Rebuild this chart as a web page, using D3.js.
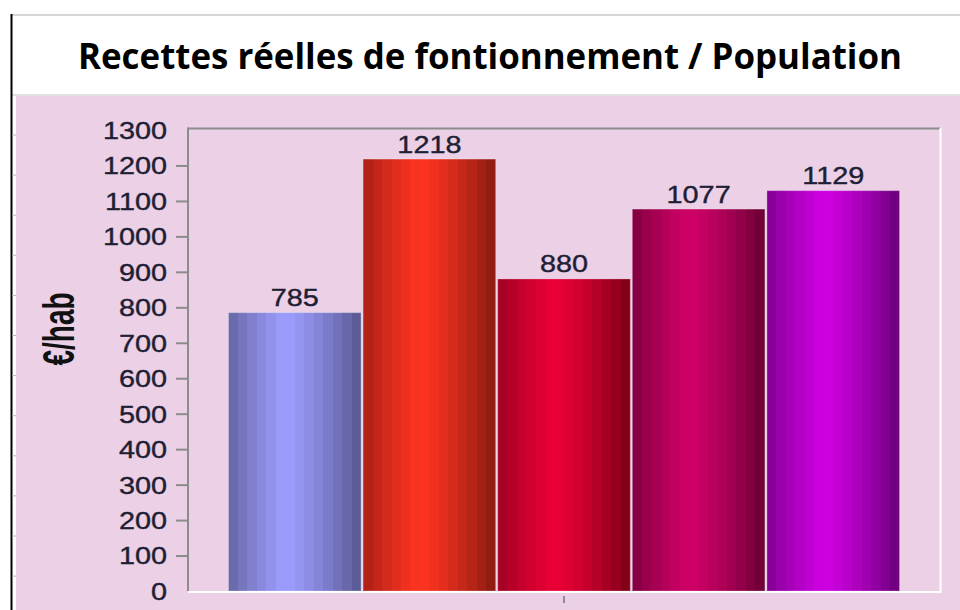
<!DOCTYPE html>
<html>
<head>
<meta charset="utf-8">
<script src="https://cdn.jsdelivr.net/npm/d3@7"></script>
<style>
  body { margin: 0; background: #ffffff; }
  svg { display: block; }
</style>
</head>
<body>
<svg id="chart" width="960" height="610"></svg>
<script>
// data
var categories = [""];
var seriesNames = ["Série 1", "Série 2", "Série 3", "Série 4", "Série 5"];
var seriesValues = [785, 1218, 880, 1077, 1129];
var yTicks = [0, 100, 200, 300, 400, 500, 600, 700, 800, 900, 1000, 1100, 1200, 1300];
var titleText = "Recettes réelles de fontionnement / Population";
var yTitle = "€/hab";

// bar shading: left edge, highlight, right edge
var barLeft  = ["#62639f", "#a51f14", "#9c0022", "#7c003d", "#7a008c"];
var barPeak  = ["#9d9dff", "#ff3421", "#ec0036", "#d10068", "#d000e4"];
var barRight = ["#56578f", "#871a10", "#7a0017", "#690034", "#680076"];

var svg = d3.select("#chart");
var pink = "#ebd0e6";
var textColor = "#1e1e34";

// frame of the sheet
svg.append("rect").attr("x", 12).attr("y", 15).attr("width", 948).attr("height", 595).attr("fill", "#fff");
svg.append("rect").attr("x", 16).attr("y", 96).attr("width", 944).attr("height", 514).attr("fill", pink);
svg.append("line").attr("x1", 12).attr("x2", 960).attr("y1", 15).attr("y2", 15)
    .attr("stroke", "#d6d6d6").attr("stroke-width", 2);
svg.append("line").attr("x1", 12).attr("x2", 960).attr("y1", 95).attr("y2", 95)
    .attr("stroke", "#d9d9d9").attr("stroke-width", 1.5);
svg.append("line").attr("x1", 11.5).attr("x2", 11.5).attr("y1", 14).attr("y2", 610)
    .attr("stroke", "#000").attr("stroke-width", 2);
// row marks on the left strip
svg.selectAll("line.row")
    .data(d3.range(135, 610, 40.1))
    .enter()
    .append("line")
    .attr("class", "row")
    .attr("x1", 12).attr("x2", 16)
    .attr("y1", function(d) { return d; }).attr("y2", function(d) { return d; })
    .attr("stroke", "#b8b8b8").attr("stroke-width", 1);

// title
svg.append("text")
    .attr("x", 490).attr("y", 69)
    .attr("text-anchor", "middle")
    .attr("font-family", "'Open Sans', 'Noto Sans', sans-serif")
    .attr("font-weight", "bold")
    .attr("font-size", 36)
    .attr("textLength", 824)
    .attr("lengthAdjust", "spacingAndGlyphs")
    .attr("fill", "#000")
    .text(titleText);

// scales
var plotLeft = 188, plotRight = 940, plotTop = 130, plotBottom = 591;
var yScale = d3.scaleLinear().domain([0, 1300]).range([plotBottom, plotTop]);
var x0 = d3.scaleBand().domain(categories).range([plotLeft, plotRight]).padding(0.0569);
var x1 = d3.scaleBand().domain(seriesNames).range([0, x0.bandwidth()]).paddingInner(0.015);

// plot frame
svg.append("line").attr("x1", plotLeft).attr("x2", plotRight).attr("y1", plotTop - 1.5).attr("y2", plotTop - 1.5)
    .attr("stroke", "#8c8c8c").attr("stroke-width", 2);
svg.append("line").attr("x1", plotRight + 0.5).attr("x2", plotRight + 0.5).attr("y1", plotTop - 2).attr("y2", plotBottom + 1)
    .attr("stroke", "#fff").attr("stroke-width", 2);
svg.append("line").attr("x1", plotLeft).attr("x2", plotRight + 1.5).attr("y1", plotBottom + 1).attr("y2", plotBottom + 1)
    .attr("stroke", "#fff").attr("stroke-width", 2);

// gradients, banded like the original
var defs = svg.append("defs");
var nBands = 14;
seriesNames.forEach(function(s, i) {
    var g = defs.append("linearGradient").attr("id", "grad" + i)
        .attr("x1", "0%").attr("x2", "100%").attr("y1", "0%").attr("y2", "0%");
    var toPeak = d3.interpolateRgb(barLeft[i], barPeak[i]);
    var fromPeak = d3.interpolateRgb(barPeak[i], barRight[i]);
    for (var k = 0; k < nBands; k++) {
        var mid = (k + 0.5) / nBands;
        var c = mid < 0.42 ? toPeak(Math.pow(mid / 0.42, 0.8)) : fromPeak(Math.pow((mid - 0.42) / 0.58, 1.3));
        g.append("stop").attr("offset", k / nBands).attr("stop-color", c);
        g.append("stop").attr("offset", (k + 1) / nBands).attr("stop-color", c);
    }
});

var group = svg.append("g").attr("transform", "translate(" + x0(categories[0]) + ",0)");

group.selectAll("rect.bar")
    .data(seriesValues)
    .enter()
    .append("rect")
    .attr("class", "bar")
    .attr("x", function(d, i) { return x1(seriesNames[i]); })
    .attr("y", function(d) { return yScale(d); })
    .attr("width", x1.bandwidth())
    .attr("height", function(d) { return plotBottom - yScale(d); })
    .attr("fill", function(d, i) { return "url(#grad" + i + ")"; })
    .attr("stroke", "rgba(255,255,255,0.25)")
    .attr("stroke-width", 1);

var sx = 1.2;
group.selectAll("text.val")
    .data(seriesValues)
    .enter()
    .append("text")
    .attr("class", "val")
    .attr("transform", function(d, i) {
        return "translate(" + (x1(seriesNames[i]) + x1.bandwidth() / 2) + "," + (yScale(d) - 6.5) + ") scale(" + sx + ",1)";
    })
    .attr("text-anchor", "middle")
    .attr("font-family", "'Liberation Sans', Arial, sans-serif")
    .attr("font-size", 24)
    .attr("fill", textColor)
    .attr("stroke", textColor)
    .attr("stroke-width", 0.4)
    .text(function(d) { return d; });

// y axis
var yAxis = svg.append("g")
    .attr("transform", "translate(" + plotLeft + ",0)")
    .call(d3.axisLeft(yScale).tickValues(yTicks).tickSize(12).tickPadding(9).tickFormat(d3.format("d")));
yAxis.select(".domain").attr("stroke", "#8c8c8c").attr("stroke-width", 2)
    .attr("d", "M0," + (plotTop - 2.5) + "V" + plotBottom);
yAxis.selectAll(".tick line").attr("stroke", "#8c8c8c").attr("stroke-width", 2)
    .attr("opacity", function(d) { return d === 0 || d === 1300 ? 0 : 1; });
yAxis.selectAll(".tick text")
    .attr("font-family", "'Liberation Sans', Arial, sans-serif")
    .attr("font-size", 24)
    .attr("fill", textColor)
    .attr("stroke", textColor)
    .attr("stroke-width", 0.4)
    .attr("x", -21 / sx)
    .attr("dy", "0.35em")
    .attr("transform", "scale(" + sx + ",1)");

// x axis: a single tick in the middle
var xAxis = svg.append("g")
    .attr("transform", "translate(0," + (plotBottom + 5) + ")")
    .call(d3.axisBottom(x0).tickSize(7).tickFormat(""));
xAxis.select(".domain").remove();
xAxis.selectAll(".tick line").attr("stroke", "#8c8c8c").attr("stroke-width", 2);

// y title
svg.append("text")
    .attr("transform", "translate(74,329) rotate(-90) scale(1,1.6)")
    .attr("text-anchor", "middle")
    .attr("font-family", "'Liberation Sans', Arial, sans-serif")
    .attr("font-weight", "bold")
    .attr("font-size", 28)
    .attr("fill", "#111")
    .text(yTitle);
</script>
</body>
</html>
